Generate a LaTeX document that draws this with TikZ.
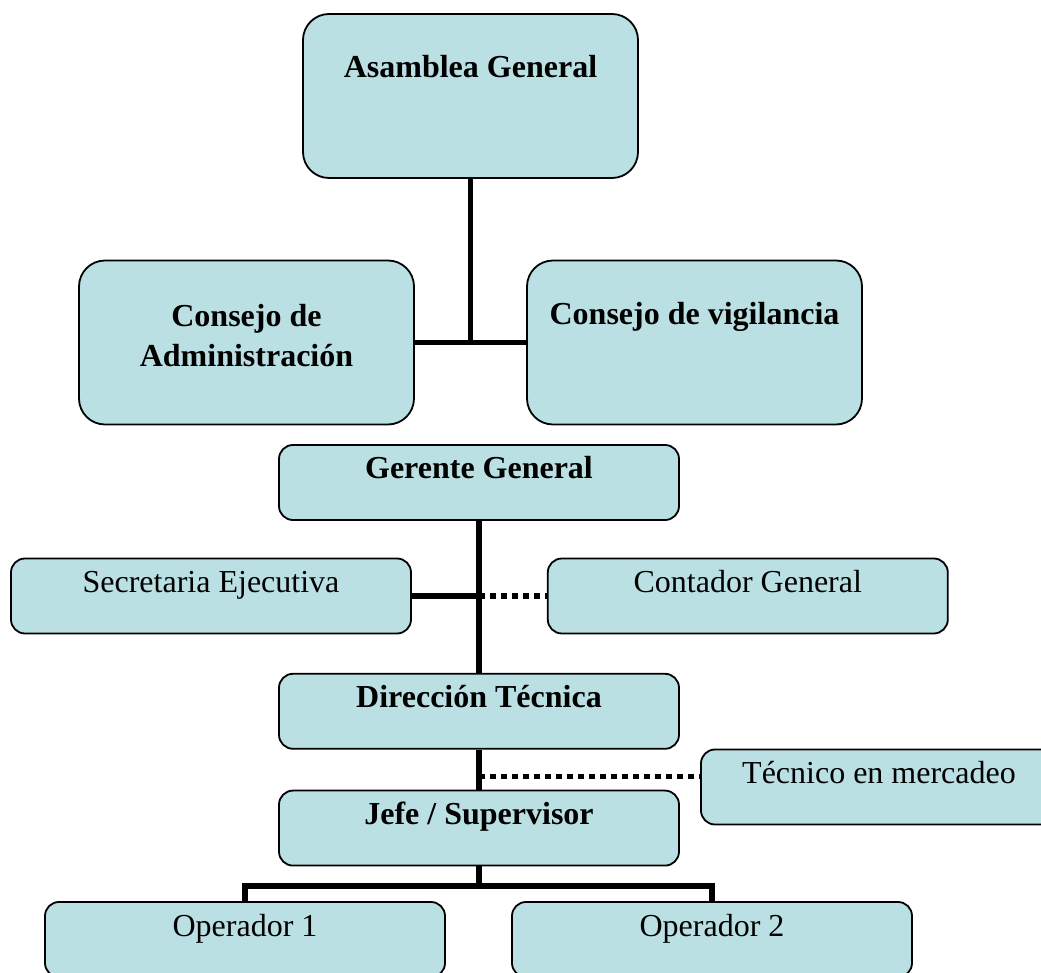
\documentclass[tikz,border=0pt]{standalone}
\usepackage{fontspec}
\setmainfont{Liberation Serif}
\usepackage{xcolor}
\usepackage{tikz}
\usetikzlibrary{calc, positioning}

\definecolor{cajaazul}{RGB}{187,224,227}

\begin{document}
\begin{tikzpicture}[
			x=0.5pt, y=-0.5pt,
			bigbox/.style={draw, line width=0.9pt, fill=cajaazul, rounded corners=13pt, rectangle, minimum width=167.5pt, inner ysep=0pt, text height=32pt, text depth=50pt, align=center, font=\fontsize{16}{20}\selectfont\bfseries},
			smallbox/.style={draw, line width=0.9pt, fill=cajaazul, rounded corners=7pt, rectangle, minimum width=200pt, inner ysep=0pt, text height=17pt, text depth=20.5pt, align=center, font=\fontsize{16}{19}\selectfont},
			titulo/.style={font=\fontsize{16}{19}\selectfont\bfseries},
			enlace/.style={line width=2.6pt},
			punteado/.style={line width=2.6pt, dash pattern=on 2.75pt off 2.75pt}
		]
		\path[use as bounding box, clip] (0,0) rectangle (1041,973);

		\node[bigbox] (asamblea) at (470.5,96) {Asamblea General};
		\node[bigbox, text height=53pt, text depth=29pt] (administracion) at (246.5,342.5) {Consejo de\\Administración};
		\node[bigbox] (vigilancia) at (694.5,342.5) {Consejo de vigilancia};

		\node[smallbox, titulo] (gerente) at (479,482.5) {Gerente General};
		\node[smallbox] (secretaria) at (211,596) {Secretaria Ejecutiva};
		\node[smallbox, right=67.5pt of secretaria] (contador) {Contador General};
		\node[smallbox, titulo, below=76pt of gerente] (direccion) {Dirección Técnica};
		\node[smallbox, titulo, below=20pt of direccion] (jefe) {Jefe / Supervisor};
		\node[smallbox, minimum width=178pt] (tecnico) at (879,787) {Técnico en mercadeo};
		\node[smallbox] (operador1) at (245,939.5) {Operador 1};
		\node[smallbox] (operador2) at (712,939.5) {Operador 2};

		\coordinate (cruce) at (secretaria -| gerente);
		\coordinate (rama) at ($(direccion.south)!0.68!(jefe.north)$);
		\coordinate (ramafin) at (rama -| tecnico.west);
		\coordinate (bus) at ($(jefe.south)+(0,19.5)$);

		\draw[enlace] (asamblea) -- (asamblea |- administracion);
		\draw[enlace] (administracion) -- (vigilancia);
		\draw[enlace] (gerente) -- (direccion);
		\draw[enlace] (secretaria) -- (cruce);
		\draw[punteado] (cruce) -- (contador);
		\draw[enlace] (direccion) -- (jefe);
		\draw[punteado] (rama) -- (ramafin);
		\draw[enlace] (jefe) -- (bus);
		\draw[enlace] (operador1.north) |- (bus) -| (operador2.north);
	\end{tikzpicture}
\end{document}
